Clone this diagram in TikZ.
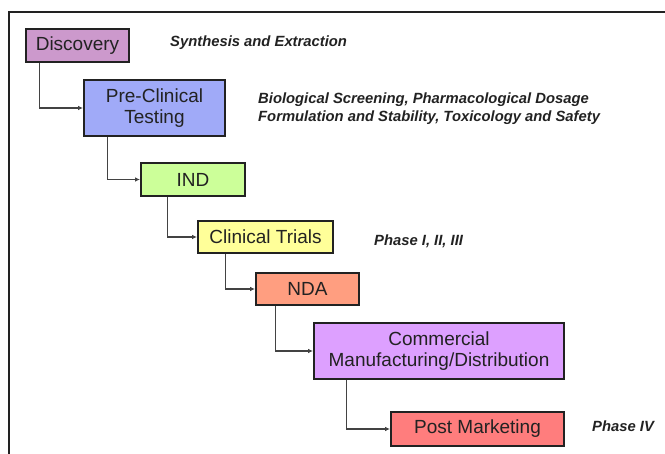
\documentclass[tikz,border=0pt]{standalone}
\usepackage{fontspec}
\setmainfont{Liberation Sans}
\usetikzlibrary{arrows.meta}
\definecolor{cDisc}{HTML}{CC99CC}
\definecolor{cPre}{HTML}{A0AAF8}
\definecolor{cInd}{HTML}{CCFF99}
\definecolor{cClin}{HTML}{FFFF99}
\definecolor{cNda}{HTML}{FF9E80}
\definecolor{cComm}{HTML}{DDA0FF}
\definecolor{cPost}{HTML}{FF7D7D}
\definecolor{ink}{HTML}{222222}
\tikzset{
  stagebox/.style={draw=ink, line width=1.8pt, rectangle, inner sep=0pt,
    align=center, text=ink, font=\fontsize{19}{21}\selectfont},
  note/.style={anchor=west, inner sep=0pt, text=ink, align=left,
    font=\fontsize{14.8}{18}\selectfont\bfseries\itshape},
  link/.style={draw=ink!85, line width=1.2pt, -{Latex[length=5pt,width=4.5pt]}},
}
\begin{document}
\begin{tikzpicture}[x=1pt, y=-1pt]
  \useasboundingbox (0,0) rectangle (665,454);
  % open frame (top and left edges)
  \draw[ink, line width=1.5pt] (665,12) -- (9,12) -- (9,454);

  % stages
  \node[stagebox, fill=cDisc, minimum width=103pt, minimum height=33pt] (disc) at (77.5,45.5) {Discovery};
  \node[stagebox, fill=cPre,  minimum width=141pt, minimum height=56pt] (pre)  at (154.5,108) {Pre-Clinical\\Testing};
  \node[stagebox, fill=cInd,  minimum width=104pt, minimum height=33pt] (ind)  at (193,179.5) {IND};
  \node[stagebox, fill=cClin, minimum width=135pt, minimum height=32pt] (clin) at (265.5,237) {Clinical Trials};
  \node[stagebox, fill=cNda,  minimum width=103pt, minimum height=32pt] (nda)  at (307.5,289) {NDA};
  \node[stagebox, fill=cComm, minimum width=250pt, minimum height=56pt] (comm) at (439,351) {Commercial\\Manufacturing/Distribution};
  \node[stagebox, fill=cPost, minimum width=173pt, minimum height=34pt] (post) at (477.5,429) {Post Marketing};

  % step-down connectors
  \draw[link] ([xshift=14pt]disc.south west) |- (pre.west);
  \draw[link] ([xshift=24pt]pre.south west)  |- (ind.west);
  \draw[link] ([xshift=27pt]ind.south west)  |- (clin.west);
  \draw[link] ([xshift=28pt]clin.south west) |- (nda.west);
  \draw[link] ([xshift=20pt]nda.south west)  |- (comm.west);
  \draw[link] ([xshift=33pt]comm.south west) |- (post.west);

  % side notes
  \node[note] (n1) at (170,43) {Synthesis and Extraction};
  \node[note] (n2) at (258,109) {Biological Screening, Pharmacological Dosage\\Formulation and Stability, Toxicology and Safety};
  \node[note] (n3) at (374,241) {Phase I, II, III};
  \node[note] (n4) at (592,426) {Phase IV};
\end{tikzpicture}
\end{document}
